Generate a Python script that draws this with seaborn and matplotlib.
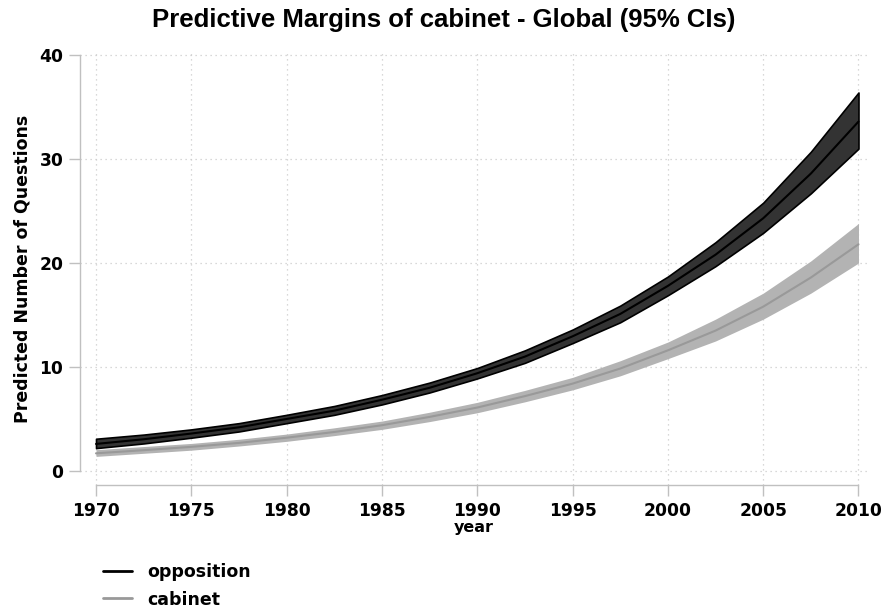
import numpy as np
import pandas as pd
import matplotlib
matplotlib.use("Agg")
import matplotlib.pyplot as plt
import seaborn as sns

years = [1970, 1972.5, 1975, 1977.5, 1980, 1982.5, 1985, 1987.5, 1990,
         1992.5, 1995, 1997.5, 2000, 2002.5, 2005, 2007.5, 2010]

opp_mean = [2.6, 3.05, 3.6, 4.2, 5.0, 5.8, 6.85, 8.0, 9.4, 11.0, 12.95, 15.1,
            17.8, 20.8, 24.3, 28.6, 33.6]
opp_lo = [2.2, 2.65, 3.2, 3.8, 4.6, 5.4, 6.4, 7.55, 8.9, 10.4, 12.3, 14.3,
          16.9, 19.7, 22.9, 26.7, 31.0]
opp_hi = [3.1, 3.5, 4.0, 4.6, 5.4, 6.25, 7.3, 8.5, 9.9, 11.6, 13.6, 15.9,
          18.7, 22.0, 25.8, 30.7, 36.4]

cab_mean = [1.7, 2.0, 2.32, 2.7, 3.2, 3.75, 4.4, 5.2, 6.1, 7.2, 8.4, 9.85,
            11.6, 13.5, 15.8, 18.6, 21.8]
cab_lo = [1.4, 1.7, 2.0, 2.4, 2.85, 3.4, 4.0, 4.75, 5.6, 6.65, 7.8, 9.15,
          10.8, 12.5, 14.6, 17.1, 20.0]
cab_hi = [2.05, 2.35, 2.65, 3.05, 3.55, 4.15, 4.8, 5.65, 6.6, 7.75, 9.0, 10.6,
          12.4, 14.6, 17.1, 20.2, 23.8]

x_ticks = [1970, 1975, 1980, 1985, 1990, 1995, 2000, 2005, 2010]
y_ticks = [0, 10, 20, 30, 40]

df = pd.DataFrame({
    'year': years * 2,
    'pred': opp_mean + cab_mean,
    'group': ['opposition'] * len(years) + ['cabinet'] * len(years),
})

sns.set_theme(style="white")
plt.rcParams['font.family'] = ['DejaVu Sans']
plt.rcParams['text.color'] = 'black'
plt.rcParams['axes.labelcolor'] = 'black'
plt.rcParams['xtick.color'] = 'black'
plt.rcParams['ytick.color'] = 'black'

fig = plt.figure(figsize=(8.87, 6.11), dpi=100)
ax = fig.add_axes([0.0902, 0.2062, 0.8884, 0.7088])

grid_kw = dict(color='#cccccc', linestyle=(0, (1, 3)), linewidth=0.9, zorder=0)
for t in y_ticks:
    ax.axhline(t, **grid_kw)
for t in x_ticks:
    ax.axvline(t, **grid_kw)

ax.fill_between(years, opp_lo, opp_hi, color='#333333', edgecolor='black',
                linewidth=1.2, zorder=2)
ax.fill_between(years, cab_lo, cab_hi, color='#b3b3b3', linewidth=0, zorder=2)

sns.lineplot(data=df, x='year', y='pred', hue='group',
             palette={'opposition': 'black', 'cabinet': '#999999'},
             linewidth=1.5, ax=ax, zorder=3, legend=False)

ax.set_xlim(1969.16, 2010.5)
ax.set_ylim(-1.35, 40.3)
ax.set_xticks(x_ticks)
ax.set_yticks(y_ticks)
ax.set_xticklabels([str(t) for t in x_ticks], fontsize=12.3, fontweight='bold')
ax.set_yticklabels([str(t) for t in y_ticks], fontsize=12.3, fontweight='bold')

for s in ['top', 'right']:
    ax.spines[s].set_visible(False)
ax.spines['left'].set_bounds(0, 40)
ax.spines['bottom'].set_bounds(1970, 2010)
for s in ['left', 'bottom']:
    ax.spines[s].set_color('#c0c0c0')
    ax.spines[s].set_linewidth(1.0)
ax.tick_params(axis='both', which='both', length=8, width=1.0, color='#c0c0c0',
               labelcolor='black', direction='out', left=True, bottom=True, pad=4)

ax.set_xlabel('year', fontsize=11.5, fontweight='bold', labelpad=0.5)
ax.set_ylabel('Predicted Number of Questions', fontsize=12.5, fontweight='bold',
              labelpad=6)

fig.suptitle('Predictive Margins of cabinet - Global (95% CIs)', x=0.5, y=0.987,
             fontsize=18.5, fontweight='bold', color='black',
             family=['Liberation Sans Narrow', 'Liberation Sans', 'DejaVu Sans'])

handles = [plt.Line2D([], [], color='black', linewidth=2),
           plt.Line2D([], [], color='#999999', linewidth=2)]
fig.legend(handles, ['opposition', 'cabinet'], loc='upper left',
           bbox_to_anchor=(0.108, 0.09), frameon=False, handlelength=1.7,
           handletextpad=0.85, labelspacing=0.55, borderaxespad=0,
           prop={'weight': 'bold', 'size': 12.5})

fig.savefig('out.png', dpi=100)
